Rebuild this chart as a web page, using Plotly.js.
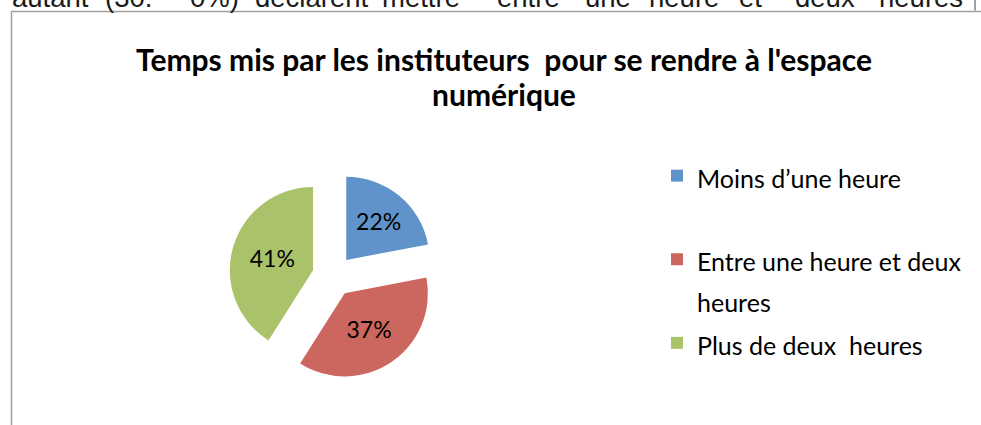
<!DOCTYPE html>
<html>
<head>
<meta charset="utf-8">
<script src="https://cdn.plot.ly/plotly-3.0.1.min.js"></script>
<style>
  html, body { margin: 0; padding: 0; background: #ffffff; }
  #chart { width: 981px; height: 425px; }
</style>
</head>
<body>
<div id="chart"></div>
<script>
// ---- Data ----
const categories = ['Moins d\u2019une heure', 'Entre une heure et deux heures', 'Plus de deux\u00a0 heures'];
const values = [22, 37, 41];
const sliceColors = ['#5F93C9', '#CC675F', '#AAC36A'];
const chartTitleLines = ['Temps mis par les instituteurs\u00a0 pour se rendre \u00e0 l\'espace', 'num\u00e9rique'];
const bodyWords = ['autant', '(30.', '0%)', 'd\u00e9clarent', 'mettre', 'entre', 'une', 'heure', 'et', 'deux', 'heures'];

// ---- Layout helpers ----
const W = 981, H = 425;
const px = x => x / W;
const py = y => 1 - y / H;

const span = (t, s) => '<span style="font-size:' + s + 'px">' + t + '</span>';

// legend text wrapping as in the original (Excel wraps the long label)
const legendWrap = {
  'Moins d\u2019une heure': ['Moins d\u2019une heure', ' '],
  'Entre une heure et deux heures': ['Entre une heure et deux', 'heures']
};
const legendLabels = categories.map(c => (legendWrap[c] || [c]).map(l => span(l, 25)).join('<br>'));

const wordX = [10, 103, 188, 253, 380, 495, 583, 647, 737, 793, 877];
const annotations = bodyWords.map((w, i) => ({
  text: w, xref: 'paper', yref: 'paper', x: px(wordX[i]), y: py(14.8),
  xanchor: 'left', yanchor: 'bottom', showarrow: false,
  font: { family: 'Liberation Sans, Arial, sans-serif', size: 27.5, color: '#1a1a1a' }
}));

const trace = {
  type: 'pie',
  labels: legendLabels,
  values: values,
  sort: false,
  direction: 'clockwise',
  rotation: 0,
  pull: [0.25, 0.25, 0.25],
  marker: { colors: sliceColors, line: { width: 0 } },
  textinfo: 'percent',
  texttemplate: '%{percent:.0%}',
  textposition: 'inside',
  insidetextorientation: 'horizontal',
  textfont: { family: 'Lato, sans-serif', size: 23, color: '#000000' },
  hoverinfo: 'skip',
  domain: { x: [px(229), px(437)], y: [py(380), py(172)] }
};

const layout = {
  width: W, height: H,
  margin: { l: 0, r: 0, t: 0, b: 0 },
  paper_bgcolor: '#ffffff',
  plot_bgcolor: '#ffffff',
  title: {
    text: chartTitleLines.map(l => span(l, 30)).join('<br>'),
    font: { family: 'Lato, sans-serif', size: 27, color: '#000000', weight: 'bold' },
    x: px(504), xanchor: 'center', xref: 'paper',
    y: py(71), yanchor: 'top', yref: 'container'
  },
  showlegend: true,
  legend: {
    x: px(657), xanchor: 'left',
    y: py(149), yanchor: 'top',
    font: { family: 'Lato, sans-serif', size: 31, color: '#000000' },
    bgcolor: 'rgba(0,0,0,0)',
    valign: 'top',
    itemclick: false, itemdoubleclick: false
  },
  shapes: [
    { type: 'line', xref: 'paper', yref: 'paper', x0: px(11), x1: px(981), y0: py(11.5), y1: py(11.5), line: { color: '#a0a0a0', width: 1.5 } },
    { type: 'line', xref: 'paper', yref: 'paper', x0: px(11.5), x1: px(11.5), y0: py(11), y1: py(425), line: { color: '#a0a0a0', width: 1.5 } },
    { type: 'line', xref: 'paper', yref: 'paper', x0: px(975), x1: px(975), y0: py(0), y1: py(10.5), line: { color: '#404040', width: 1 } }
  ],
  annotations: annotations
};

Plotly.newPlot('chart', [trace], layout, { displayModeBar: false, staticPlot: true });
</script>
</body>
</html>
